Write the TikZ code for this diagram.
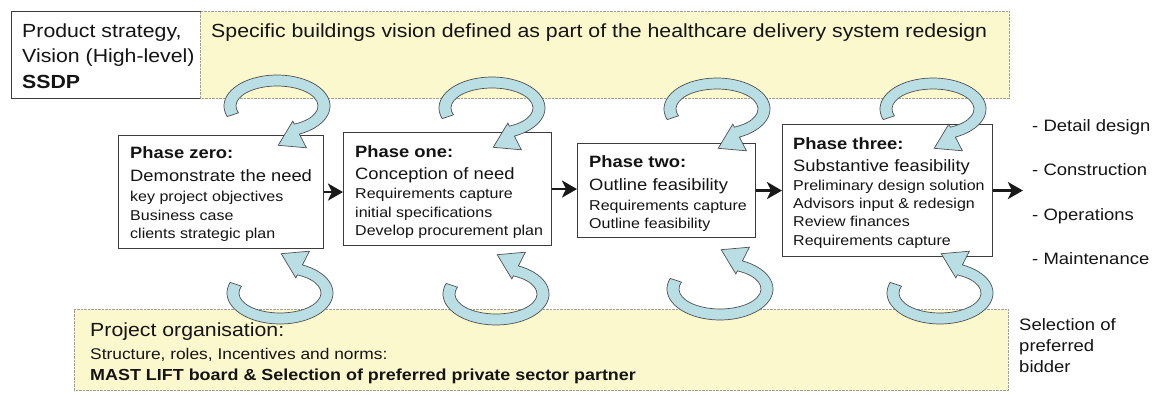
\documentclass[tikz,border=0pt]{standalone}
\usepackage{fontspec}
\setmainfont{Liberation Sans}
\usetikzlibrary{arrows.meta}
\definecolor{bandyellow}{RGB}{252,248,206}
\definecolor{banddot}{RGB}{160,160,150}
\definecolor{arrowfill}{RGB}{185,222,228}
\definecolor{arrowedge}{RGB}{80,80,80}
\definecolor{boxedge}{RGB}{60,60,60}
\definecolor{txtcol}{RGB}{20,20,20}
\newcommand\phtitle[1]{{\fontsize{16.4}{18.5}\selectfont\bfseries #1}}
\newcommand\phsub[1]{{\fontsize{16.4}{18.5}\selectfont #1}}
\tikzset{
  circarrow/.pic={
    \filldraw[fill=arrowfill, draw=arrowedge, line width=0.7pt, line join=miter]
      (160:53pt and 31pt) arc[start angle=160, end angle=425, x radius=53pt, y radius=31pt]
      -- (29.4pt,41.8pt) -- (1.2pt,39.3pt) -- (15.8pt,15.1pt) -- (65:41pt and 20pt)
      arc[start angle=425, end angle=160, x radius=41pt, y radius=20pt] -- cycle;
  }
}
\begin{document}
\begin{tikzpicture}[x=1pt,y=1pt,
  band/.style={draw=banddot, dash pattern=on 0.7pt off 0.7pt, line width=0.6pt, fill=bandyellow, inner sep=0pt, anchor=south west},
  whitebox/.style={draw=boxedge, line width=0.9pt, fill=white, inner sep=0pt, anchor=south west},
  phasebox/.style={draw=boxedge, line width=0.9pt, fill=white, inner sep=0pt, anchor=south west},
  lbl/.style={inner sep=0pt, text=txtcol, xscale=1.12},
  flow/.style={line width=2.6pt, draw=black!90, -{Stealth[length=15pt,width=17pt,inset=4pt]}}
]
\useasboundingbox (0,0) rectangle (1161,394);

% bands
\node[whitebox, minimum width=189pt, minimum height=87pt] (strategy) at (11,295) {};
\node[band, minimum width=809pt, minimum height=87pt] (vision) at (200,295) {};
\node[band, minimum width=934pt, minimum height=81pt] (organisation) at (74,3) {};

\node[lbl, anchor=north west, align=left, font=\fontsize{19}{25.5}\selectfont] (strattxt) at (22,370.8)
  {Product strategy,\\Vision (High-level)\\\textbf{SSDP}};
\node[lbl, anchor=base west, font=\fontsize{19}{25.5}\selectfont] (vistxt) at (211,356.7)
  {Specific buildings vision defined as part of the healthcare delivery system redesign};

\node[lbl, anchor=north west, align=left, font=\fontsize{15.5}{21}\selectfont] (orgtxt) at (90,71.6)
  {{\fontsize{19}{21}\selectfont Project organisation:}\\[2pt]
   Structure, roles, Incentives and norms:\\
   {\fontsize{16}{21}\selectfont\bfseries MAST LIFT board \& Selection of preferred private sector partner}};

% phase boxes
\node[phasebox, minimum width=205pt, minimum height=113pt] (p0) at (118,145) {};
\node[phasebox, minimum width=208pt, minimum height=113pt] (p1) at (343,148) {};
\node[phasebox, minimum width=178pt, minimum height=94pt] (p2) at (577,156) {};
\node[phasebox, minimum width=210pt, minimum height=132pt] (p3) at (782,137) {};

\node[lbl, anchor=north west, align=left, font=\fontsize{14.3}{18.5}\selectfont] (p0t) at (130,248)
  {\phtitle{Phase zero:}\\[5pt]\phsub{Demonstrate the need}\\[1.5pt]key project objectives\\Business case\\clients strategic plan};
\node[lbl, anchor=north west, align=left, font=\fontsize{14.3}{18.7}\selectfont] (p1t) at (355,249)
  {\phtitle{Phase one:}\\[3.5pt]\phsub{Conception of need}\\[0.5pt]Requirements capture\\initial specifications\\Develop procurement plan};
\node[lbl, anchor=north west, align=left, font=\fontsize{14.3}{18.5}\selectfont] (p2t) at (589,239)
  {\phtitle{Phase two:}\\[4.5pt]\phsub{Outline feasibility}\\[1.5pt]Requirements capture\\Outline feasibility};
\node[lbl, anchor=north west, align=left, font=\fontsize{14.3}{18.3}\selectfont] (p3t) at (793,257)
  {\phtitle{Phase three:}\\[4.5pt]\phsub{Substantive feasibility}\\Preliminary design solution\\Advisors input \& redesign\\Review finances\\Requirements capture};

% flow arrows
\draw[flow] (p0.east) -- (p0.east -| p1.west);
\draw[flow] (p1.east) -- (p1.east -| p2.west);
\draw[flow] (p2.east) -- (p2.east -| p3.west);
\coordinate (out) at ([xshift=30pt]p3.east);
\draw[flow] (p3.east) -- (out);

% right labels
\node[lbl, anchor=base west, font=\fontsize{16.5}{20}\selectfont] (r1) at (1032,262) {- Detail design};
\node[lbl, anchor=base west, font=\fontsize{16.5}{20}\selectfont] (r2) at (1032,218) {- Construction};
\node[lbl, anchor=base west, font=\fontsize{16.5}{20}\selectfont] (r3) at (1032,174) {- Operations};
\node[lbl, anchor=base west, font=\fontsize{16.5}{20}\selectfont] (r4) at (1032,130) {- Maintenance};
\node[lbl, anchor=north west, align=left, font=\fontsize{16.5}{21}\selectfont] (sel) at (1019,76)
  {Selection of\\preferred\\bidder};

% circular arrows
\pic[yscale=-1] at (277,288) {circarrow};
\pic[yscale=-1] at (492,286) {circarrow};
\pic[yscale=-1] at (717,285) {circarrow};
\pic[yscale=-1] at (933,285) {circarrow};
\pic at (280,101) {circarrow};
\pic at (496,100) {circarrow};
\pic at (720,105) {circarrow};
\pic at (940,101) {circarrow};
\end{tikzpicture}
\end{document}
